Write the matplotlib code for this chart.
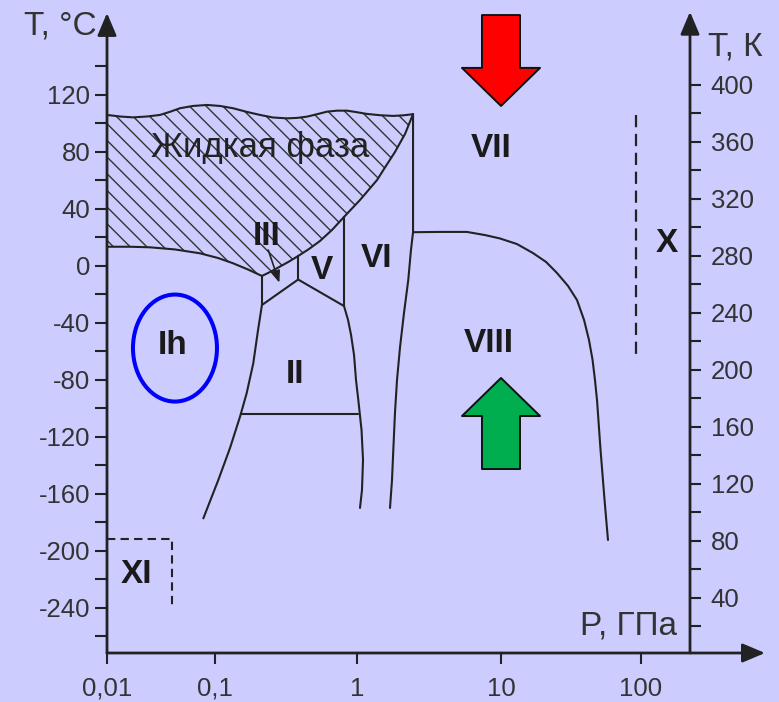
import numpy as np
import matplotlib
matplotlib.use("Agg")
import matplotlib.pyplot as plt
import matplotlib.transforms as mtransforms
from matplotlib.patches import Ellipse
from matplotlib.ticker import FixedLocator, NullLocator

plt.rcParams["font.family"] = ["Liberation Sans", "DejaVu Sans"]
plt.rcParams["axes.unicode_minus"] = False
plt.rcParams["hatch.linewidth"] = 1.0

BG = "#CCCCFF"
INK = "#222222"
TXT = "#333333"

# ---- phase boundaries of water: P in GPa, T in °C ----
# upper (wavy) edge of the liquid field
liq_top_P = [0.01, 0.01319, 0.01741, 0.02344, 0.03097, 0.03831, 0.04742, 0.06252,
             0.08433, 0.1084, 0.1339, 0.1681, 0.2074, 0.2561, 0.3213, 0.3777,
             0.4443, 0.5227, 0.6147, 0.7229, 0.8503, 1.0, 1.173, 1.445, 1.778,
             2.086, 2.45]
liq_top_T = [105.8, 104.7, 104.1, 104.7, 105.8, 108.0, 110.5, 112.1,
             112.8, 112.1, 110.5, 107.9, 105.8, 104.0, 103.4, 103.7,
             104.6, 106.3, 108.1, 108.8, 108.8, 107.7, 106.5, 105.6, 105.1,
             105.5, 106.3]
# melting line of ice Ih
melt_ih_P = [0.01, 0.01633, 0.025, 0.0426, 0.0726, 0.105, 0.134, 0.171, 0.214]
melt_ih_T = [13.3, 13.3, 12.9, 11.4, 8.7, 5.4, 1.7, -2.7, -7.2]
# melting line of ices III, V, VI, VII
melt_hp_P = [0.214, 0.248, 0.287, 0.332, 0.385, 0.459, 0.548, 0.667, 0.810,
             1.049, 1.377, 1.589, 1.835, 2.154, 2.45]
melt_hp_T = [-7.2, -4.1, -0.6, 2.9, 6.8, 11.7, 17.3, 25.1, 34.2,
             46.1, 60.1, 70.0, 79.8, 92.4, 106.3]

# solid-solid boundaries
ih_iii_P, ih_iii_T = [0.214, 0.214], [-7.2, -27.6]
iii_ii_P, iii_ii_T = [0.214, 0.385], [-27.6, -9.7]
iii_v_P, iii_v_T = [0.385, 0.385], [6.8, -9.7]
v_ii_P, v_ii_T = [0.385, 0.810], [-9.7, -28.3]
v_vi_P, v_vi_T = [0.810, 0.810], [34.2, -28.3]
ih_ii_P = [0.214, 0.201, 0.186, 0.167, 0.150, 0.1276, 0.1055, 0.078]
ih_ii_T = [-27.6, -45.1, -68.5, -89.6, -106.0, -127.9, -150.4, -177.3]
ii_low_P, ii_low_T = [0.152, 1.016], [-104.1, -104.1]
ii_vi_P = [0.810, 0.865, 0.908, 0.953, 0.984, 1.021, 1.075, 1.101, 1.083, 1.049]
ii_vi_T = [-28.3, -38.1, -48.6, -62.6, -80.2, -94.2, -115.3, -136.3, -157.4,
           -170.0]
vi_vii_P = [2.45, 2.45, 2.37, 2.27, 2.12, 1.99, 1.896, 1.835, 1.787, 1.75, 1.695]
vi_vii_T = [106.3, 23.5, 11.0, -10.0, -33.2, -57.1, -80.2, -103.4, -129.3,
            -150.4, -170.0]
vii_viii_P = [2.45, 3.77, 5.80, 7.74, 9.84, 13.0, 16.9, 21.0, 25.1, 30.1, 34.9,
              39.2, 42.5, 45.1, 46.9, 48.5, 51.4, 54.9, 58.1]
vii_viii_T = [23.5, 23.7, 23.7, 21.5, 19.1, 15.2, 8.9, 2.6, -5.1, -14.2, -24.1,
              -38.1, -52.1, -66.2, -80.2, -94.2, -129.3, -164.4, -192.5]
# tentative boundaries (dashed)
ice_x_P, ice_x_T = [92.0, 92.0], [105.8, -64.8]
ice_xi_P, ice_xi_T = [0.01, 0.0397, 0.0397], [-192.0, -192.0, -238.1]

# phase names (T is the text baseline)
phase_names = ["VII", "VIII", "X", "VI", "V", "III", "II", "Ih", "XI"]
phase_P = [8.52, 8.26, 153.0, 1.377, 0.562, 0.231, 0.364, 0.0404, 0.0186]
phase_T = [76.1, -60.4, 9.6, -1.1, -9.5, 14.5, -82.5, -62.0, -222.9]
liquid_label = "Жидкая фаза"
liquid_P, liquid_T = 0.2075, 76.5

# ticks
p_ticks = [0.01, 0.1, 1, 10, 100]
p_labels = ["0,01", "0,1", "1", "10", "100"]
tc_major = list(range(-240, 121, 40))
tc_minor = list(range(-260, 141, 40))
tk_major = list(range(40, 401, 40))
tk_minor = list(range(20, 381, 40))

# pressure axis is hand-spaced: the first decade is shorter than the others
dec_log = np.array([-2.0, -1.0, 0.0, 1.0, 2.0, 3.0])
dec_pos = np.array([0.0, 108.0, 250.0, 394.0, 534.0, 674.0])


def p_fwd(p):
    return np.interp(np.log10(np.clip(p, 1e-9, None)), dec_log, dec_pos)


def p_inv(x):
    return 10.0 ** np.interp(x, dec_pos, dec_log)


fig = plt.figure(figsize=(7.79, 7.02), dpi=100, facecolor=BG)
ax = fig.add_axes([107 / 779, 49 / 702, 583 / 779, 622 / 702])
ax.set_facecolor(BG)
ax.set_xscale("function", functions=(p_fwd, p_inv))
ax.set_xlim(0.01, 10 ** 2.35)
ax.set_ylim(-271.8, 164.7)
for s in ax.spines.values():
    s.set_visible(False)

# liquid field, hatched
fill_P = liq_top_P + melt_hp_P[::-1] + melt_ih_P[::-1]
fill_T = liq_top_T + melt_hp_T[::-1] + melt_ih_T[::-1]
ax.fill(fill_P, fill_T, facecolor="none", edgecolor="#333333", hatch="\\\\", lw=0)

lines = [(liq_top_P, liq_top_T), (melt_ih_P, melt_ih_T), (melt_hp_P, melt_hp_T),
         (ih_iii_P, ih_iii_T), (iii_ii_P, iii_ii_T), (iii_v_P, iii_v_T),
         (v_ii_P, v_ii_T), (v_vi_P, v_vi_T), (ih_ii_P, ih_ii_T),
         (ii_low_P, ii_low_T), (ii_vi_P, ii_vi_T), (vi_vii_P, vi_vii_T),
         (vii_viii_P, vii_viii_T)]
for P, T in lines:
    ax.plot(P, T, color=INK, lw=1.5, solid_joinstyle="round",
            solid_capstyle="round")
ax.plot(ice_x_P, ice_x_T, color=INK, lw=1.6, dashes=(5.5, 3))
ax.plot(ice_xi_P, ice_xi_T, color=INK, lw=1.5, dashes=(4, 2.5), clip_on=False)

for name, p, t in zip(phase_names, phase_P, phase_T):
    ax.text(p, t, name, ha="center", va="baseline", fontsize=24,
            fontweight="bold", color="#1a1a1a")
ax.text(liquid_P, liquid_T, liquid_label, ha="center", va="baseline",
        fontsize=25, color=INK)

# pointer into the ice III field
ax.annotate("", xy=(0.284, -11.9), xytext=(0.237, 11.0),
            arrowprops=dict(arrowstyle="-|>,head_length=0.7,head_width=0.28",
                            mutation_scale=10, color=INK, lw=1.2,
                            shrinkA=0, shrinkB=0))

# ring around ice Ih
ring = mtransforms.ScaledTranslation(0.0426, -57.8, ax.transData)
ax.add_patch(Ellipse((0, 0), 0.84, 1.07, transform=fig.dpi_scale_trans + ring,
                     fill=False, ec="#0000FF", lw=2.9))

# heating / cooling arrows at 10 GPa
block = "simple,head_length=2.74,head_width=5.62,tail_width=2.74"
ax.annotate("", xy=(10, 112.1), xytext=(10, 175.9), annotation_clip=False,
            arrowprops=dict(arrowstyle=block, mutation_scale=10, fc="#FF0000",
                            ec="#111111", lw=1.4, shrinkA=0, shrinkB=0))
ax.annotate("", xy=(10, -78.8), xytext=(10, -142.7), annotation_clip=False,
            arrowprops=dict(arrowstyle=block, mutation_scale=10, fc="#00AD4F",
                            ec="#111111", lw=1.4, shrinkA=0, shrinkB=0))

# axes drawn as arrows
axis_arrow = dict(arrowstyle="-|>,head_length=1.37,head_width=0.58",
                  mutation_scale=10, color=INK, lw=2, shrinkA=0, shrinkB=0)
for tip, tail in [((1.1286, 0), (0, 0)), ((0, 1.029), (0, 0)),
                  ((1, 1.031), (1, 0))]:
    ax.annotate("", xy=tip, xytext=tail, xycoords="axes fraction",
                annotation_clip=False, arrowprops=axis_arrow)

# ticks
ax.xaxis.set_major_locator(FixedLocator(p_ticks))
ax.xaxis.set_minor_locator(NullLocator())
ax.set_xticklabels(p_labels)
ax.set_yticks(tc_major)
ax.yaxis.set_minor_locator(FixedLocator(tc_minor))
ax.tick_params(axis="x", direction="out", length=8, width=1.5, color=INK,
               labelsize=18.5, labelcolor=TXT, pad=9)
ax.tick_params(axis="y", which="both", direction="out", length=8.6, width=1.5,
               color=INK, labelsize=18.5, labelcolor=TXT, pad=3.5)

sec = ax.secondary_yaxis("right", functions=(lambda t: t + 273.15,
                                             lambda k: k - 273.15))
sec.spines["right"].set_visible(False)
sec.set_yticks(tk_major)
sec.yaxis.set_minor_locator(FixedLocator(tk_minor))
sec.tick_params(which="both", direction="out", length=8, width=1.5, color=INK,
                labelsize=18.5, labelcolor=TXT, pad=7)

ax.text(-0.0172, 0.9936, "T, °C", transform=ax.transAxes, ha="right",
        va="baseline", fontsize=24, color=TXT)
ax.text(1.031, 0.9614, "T, К", transform=ax.transAxes, ha="left",
        va="baseline", fontsize=24, color=TXT)
ax.text(0.9777, 0.0305, "P, ГПа", transform=ax.transAxes, ha="right",
        va="baseline", fontsize=24, color=TXT)

fig.savefig("out.png", dpi=100, facecolor=BG)
